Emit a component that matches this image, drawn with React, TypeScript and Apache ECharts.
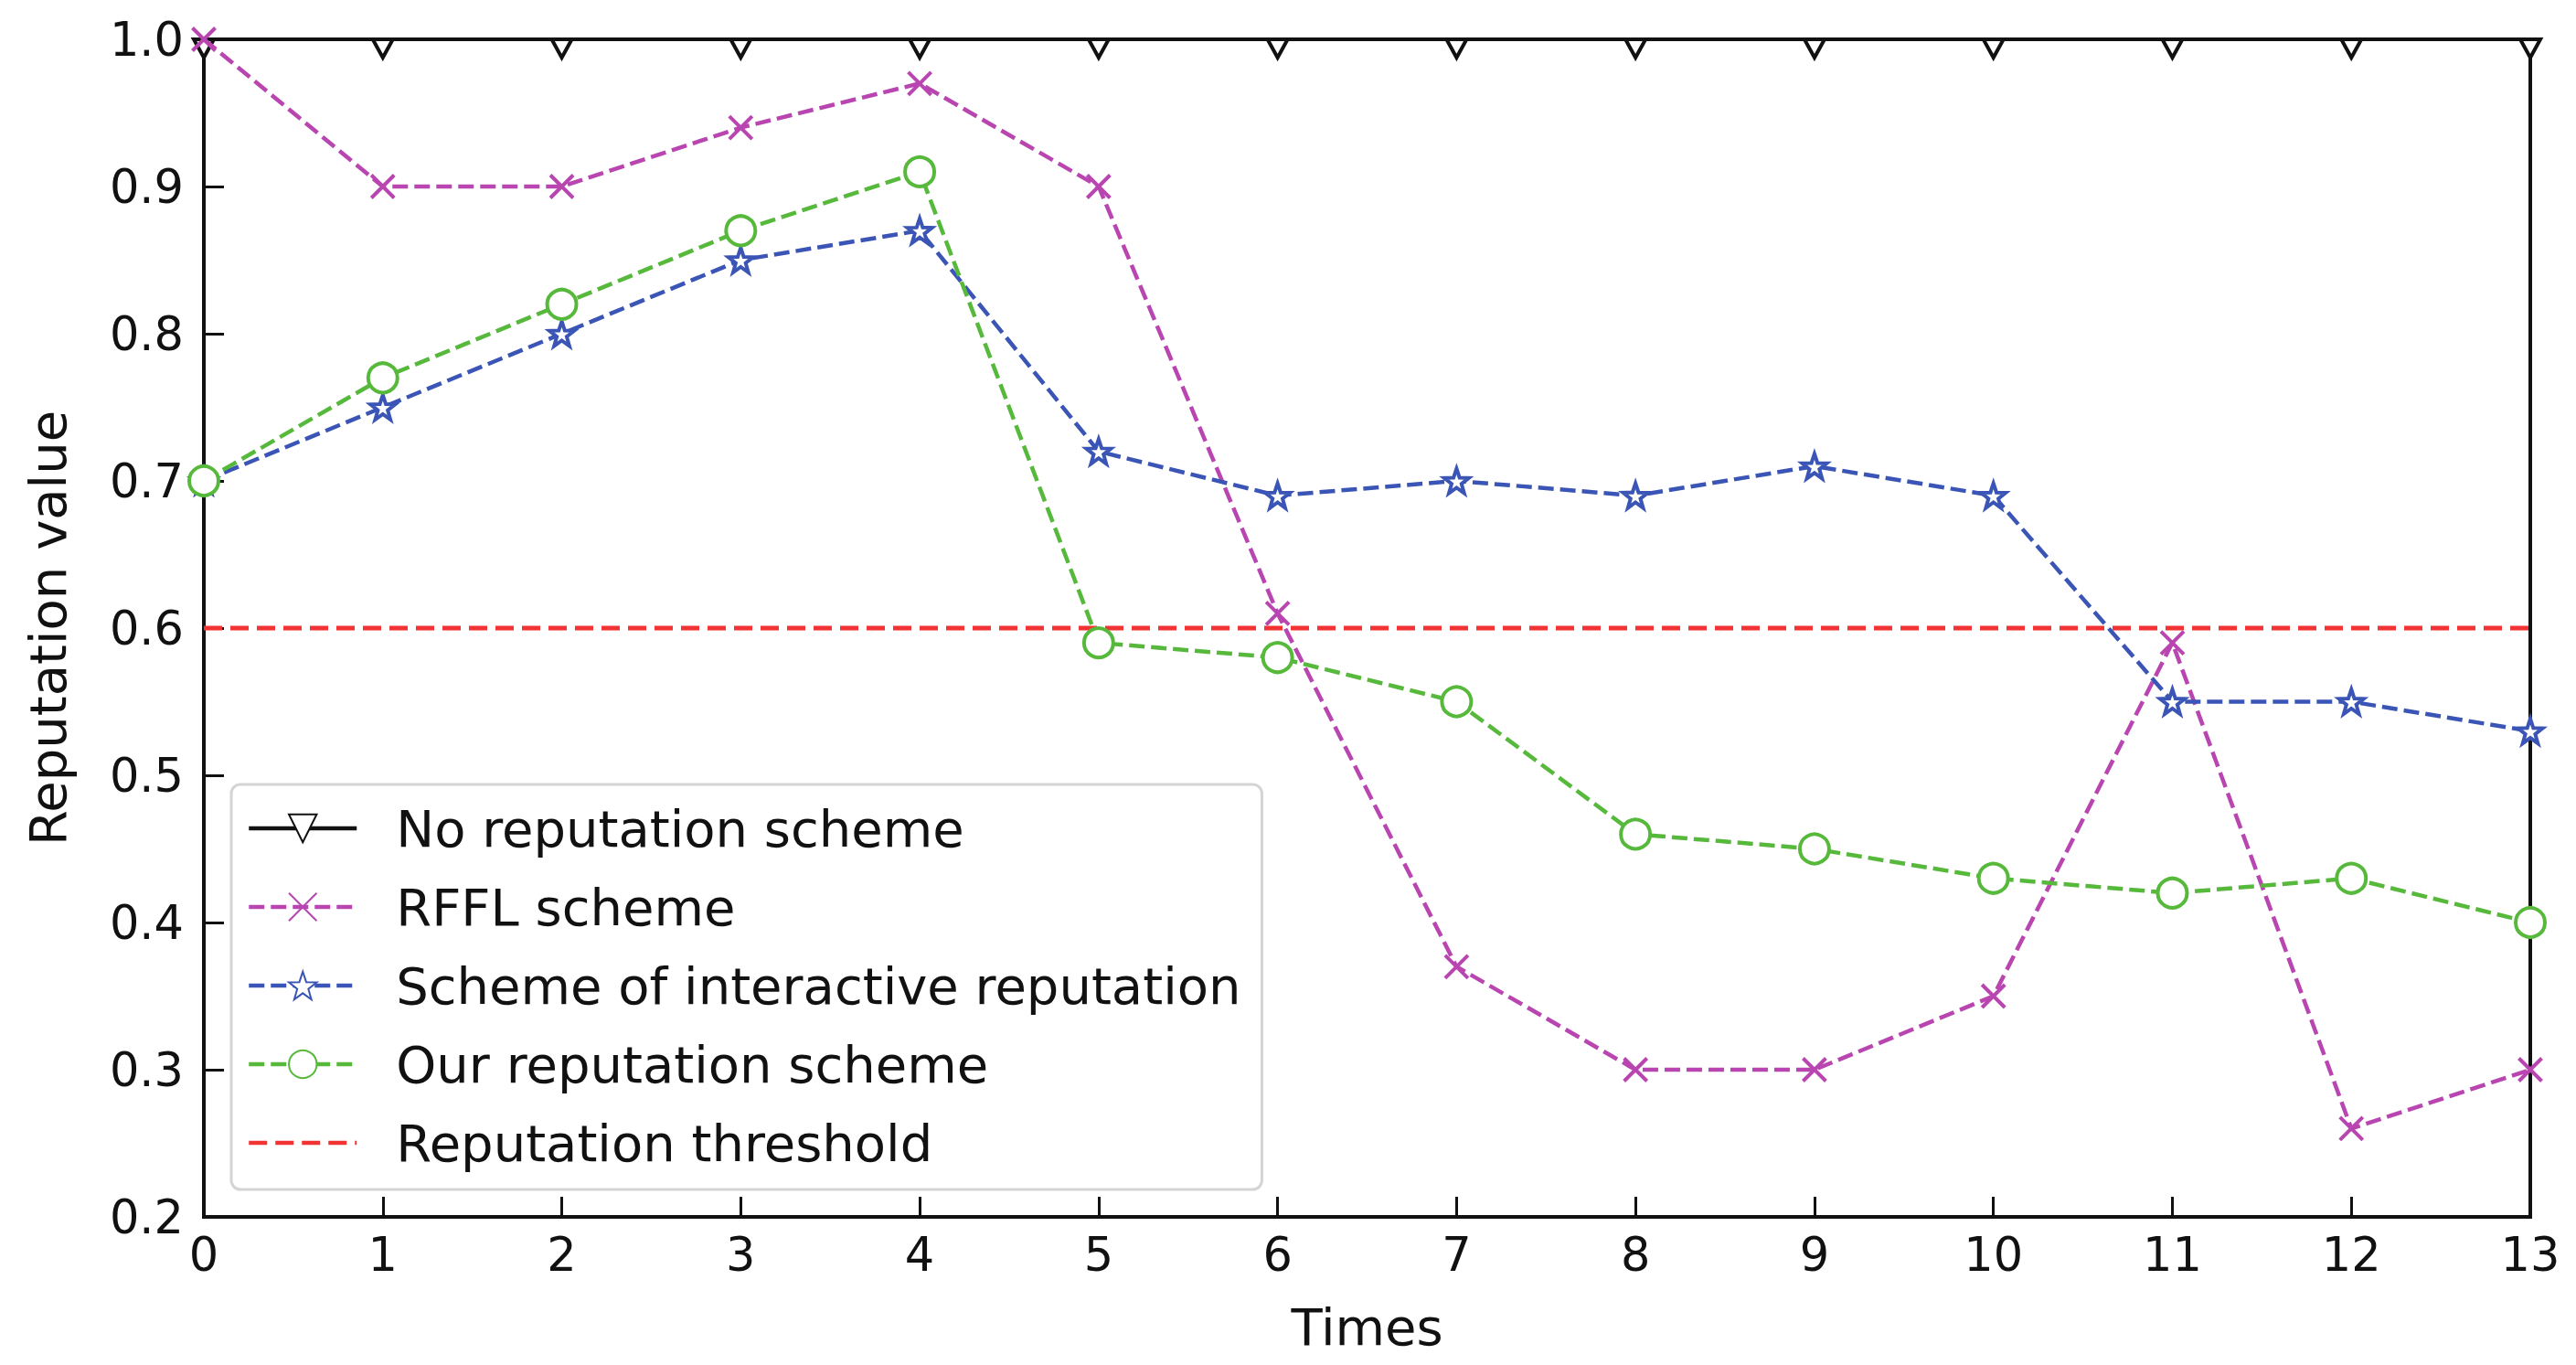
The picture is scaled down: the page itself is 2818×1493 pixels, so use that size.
import React, { useEffect, useRef } from "react";
import * as echarts from "echarts";

const times = [0, 1, 2, 3, 4, 5, 6, 7, 8, 9, 10, 11, 12, 13];
const noReputation = [1.0, 1.0, 1.0, 1.0, 1.0, 1.0, 1.0, 1.0, 1.0, 1.0, 1.0, 1.0, 1.0, 1.0];
const rffl = [1.0, 0.9, 0.9, 0.94, 0.97, 0.9, 0.61, 0.37, 0.3, 0.3, 0.35, 0.59, 0.26, 0.3];
const interactive = [0.7, 0.75, 0.8, 0.85, 0.87, 0.72, 0.69, 0.7, 0.69, 0.71, 0.69, 0.55, 0.55, 0.53];
const ours = [0.7, 0.77, 0.82, 0.87, 0.91, 0.59, 0.58, 0.55, 0.46, 0.45, 0.43, 0.42, 0.43, 0.4];
const thresholdValue = 0.6;
const seriesNames = [
  "No reputation scheme",
  "RFFL scheme",
  "Scheme of interactive reputation",
  "Our reputation scheme",
  "Reputation threshold",
];

const FONT = "DejaVu Sans";
const MAGENTA = "#b945b1";
const BLUE = "#3a55b5";
const GREEN = "#57b93b";
const RED = "#f23333";

const STAR =
  "path://M0,-10 L2.351,-3.236 L9.511,-3.09 L3.804,1.236 L5.878,8.09 L0,4 L-5.878,8.09 L-3.804,1.236 L-9.511,-3.09 L-2.351,-3.236 Z";
const XMARK = "path://M0,0L10,10M10,0L0,10";

const pairs = (ys: number[]) => times.map((t, i) => [t, ys[i]]);

export default function App() {
  const ref = useRef<HTMLDivElement>(null);
  useEffect(() => {
    document.body.style.margin = "0";
    if (!ref.current) return;
    const chart = echarts.init(ref.current, null, { renderer: "svg" });
    chart.setOption({
      animation: false,
      backgroundColor: "#fff",
      textStyle: { fontFamily: FONT },
      grid: {
        left: 223,
        right: 50,
        top: 43,
        bottom: 162,
        show: true,
        borderColor: "#111",
        borderWidth: 4,
        backgroundColor: "transparent",
      },
      xAxis: {
        type: "value",
        min: 0,
        max: 13,
        interval: 1,
        name: "Times",
        nameLocation: "middle",
        nameGap: 92,
        nameTextStyle: { fontSize: 56, color: "#111", fontFamily: FONT },
        axisLine: { show: true, lineStyle: { color: "#111", width: 4 } },
        axisTick: { show: true, inside: true, length: 22, lineStyle: { color: "#111", width: 3 } },
        axisLabel: { fontSize: 51, color: "#111", margin: 16, fontFamily: FONT },
        splitLine: { show: false },
      },
      yAxis: {
        type: "value",
        min: 0.2,
        max: 1.0,
        interval: 0.1,
        name: "Reputation value",
        nameLocation: "middle",
        nameGap: 143,
        nameTextStyle: { fontSize: 56, color: "#111", fontFamily: FONT },
        axisLine: { show: true, lineStyle: { color: "#111", width: 4 } },
        axisTick: { show: true, inside: true, length: 22, lineStyle: { color: "#111", width: 3 } },
        axisLabel: {
          fontSize: 51,
          color: "#111",
          margin: 22,
          fontFamily: FONT,
          formatter: (v: number) => v.toFixed(1),
        },
        splitLine: { show: false },
      },
      legend: {
        orient: "vertical",
        left: 253,
        top: 858,
        data: seriesNames,
        itemWidth: 118,
        itemHeight: 38,
        itemGap: 26,
        padding: [18, 23, 21, 17],
        backgroundColor: "rgba(255,255,255,0.85)",
        borderColor: "#d4d4d4",
        borderWidth: 3,
        borderRadius: 10,
        z: 10,
        lineStyle: { width: 4.5 },
        textStyle: {
          fontSize: 56,
          color: "#111",
          fontFamily: FONT,
          lineHeight: 60,
          padding: [0, 0, 0, 38],
        },
      },
      series: [
        {
          name: seriesNames[0],
          type: "line",
          data: pairs(noReputation),
          symbol: "triangle",
          symbolRotate: 180,
          symbolSize: [22, 20],
          symbolOffset: [0, 10],
          lineStyle: { color: "#111", width: 3.5, type: "solid" },
          itemStyle: { color: "#fff", borderColor: "#111", borderWidth: 4 },
          z: 3,
        },
        {
          name: seriesNames[1],
          type: "line",
          data: pairs(rffl),
          symbol: XMARK,
          symbolSize: 25,
          lineStyle: { color: MAGENTA, width: 4.5, type: [17, 7] },
          itemStyle: { color: MAGENTA, borderColor: MAGENTA, borderWidth: 4 },
          z: 4,
        },
        {
          name: seriesNames[2],
          type: "line",
          data: pairs(interactive),
          symbol: STAR,
          symbolSize: 27,
          lineStyle: { color: BLUE, width: 4.5, type: [17, 7] },
          itemStyle: { color: "#fff", borderColor: BLUE, borderWidth: 4 },
          z: 5,
        },
        {
          name: seriesNames[3],
          type: "line",
          data: pairs(ours),
          symbol: "circle",
          symbolSize: 32,
          lineStyle: { color: GREEN, width: 4.5, type: [17, 7] },
          itemStyle: { color: "#fff", borderColor: GREEN, borderWidth: 4 },
          z: 6,
        },
        {
          name: seriesNames[4],
          type: "line",
          data: [
            [times[0], thresholdValue],
            [times[times.length - 1], thresholdValue],
          ],
          symbol: "none",
          lineStyle: { color: RED, width: 5, type: [20, 9] },
          itemStyle: { color: "rgba(0,0,0,0)", borderColor: "rgba(0,0,0,0)", borderWidth: 0 },
          z: 2,
        },
      ],
    });
    return () => chart.dispose();
  }, []);
  return <div ref={ref} style={{ width: 2818, height: 1493 }} />;
}
